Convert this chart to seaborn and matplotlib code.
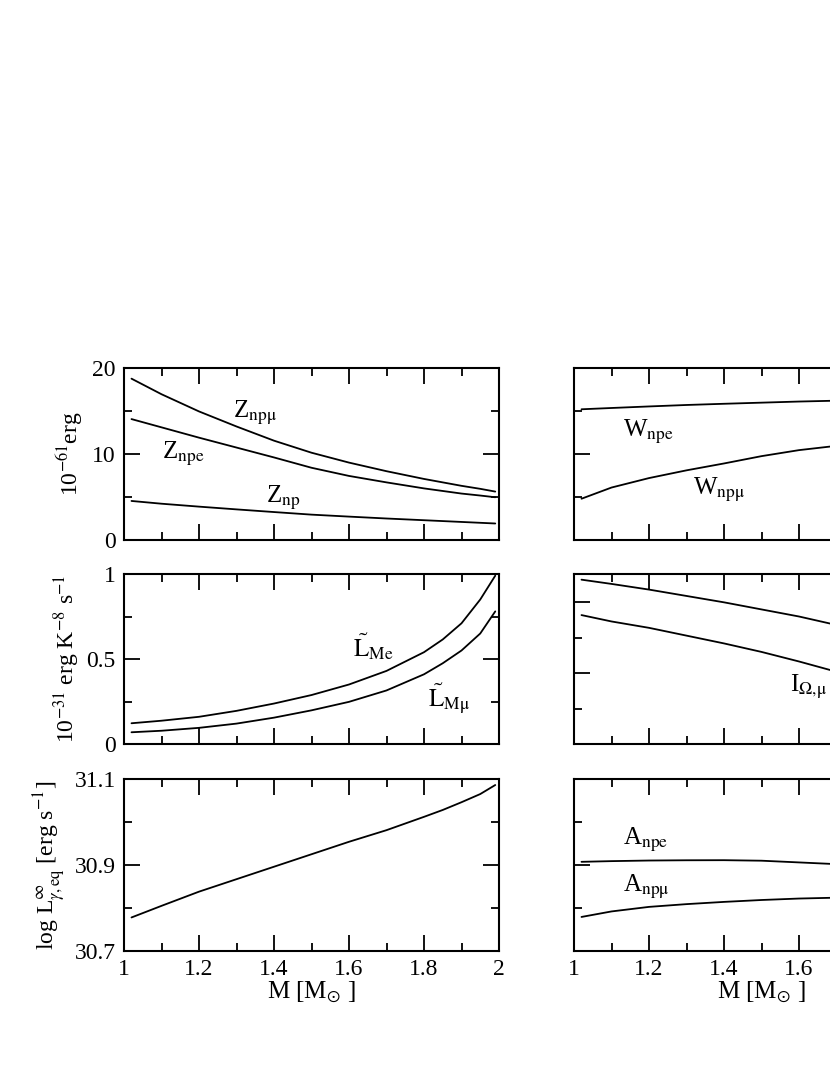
import matplotlib
matplotlib.use("Agg")
import matplotlib.pyplot as plt
import seaborn as sns
from matplotlib.ticker import MultipleLocator, FixedLocator, FormatStrFormatter, FuncFormatter

# ---------------- data ----------------
mass = [1.02, 1.1, 1.2, 1.3, 1.4, 1.5, 1.6, 1.7, 1.8, 1.85, 1.9, 1.95, 1.99]

Z_npmu = [18.76, 16.95, 14.95, 13.2, 11.55, 10.15, 9.0, 8.0, 7.1, 6.7, 6.3, 5.95, 5.63]
Z_npe = [14.06, 13.1, 11.9, 10.75, 9.6, 8.4, 7.45, 6.7, 6.0, 5.7, 5.4, 5.17, 4.97]
Z_np = [4.54, 4.22, 3.88, 3.56, 3.25, 2.95, 2.72, 2.5, 2.3, 2.2, 2.1, 2.0, 1.92]

L_Me = [0.122, 0.137, 0.160, 0.195, 0.238, 0.288, 0.35, 0.43, 0.54, 0.615, 0.71, 0.85, 0.99]
L_Mmu = [0.069, 0.078, 0.095, 0.12, 0.155, 0.198, 0.248, 0.315, 0.41, 0.475, 0.55, 0.65, 0.78]

logL_eq = [30.778, 30.805, 30.838, 30.867, 30.896, 30.925, 30.954, 30.981,
           31.012, 31.028, 31.046, 31.065, 31.086]

W_npe = [15.2, 15.35, 15.53, 15.7, 15.84, 15.97, 16.1, 16.2, 16.28, 16.31, 16.34, 16.37, 16.4]
W_npmu = [4.8, 6.1, 7.2, 8.1, 8.9, 9.75, 10.45, 10.95, 11.4, 11.6, 11.8, 11.95, 12.1]

I_e = [2.32, 2.26, 2.18, 2.09, 2.0, 1.9, 1.8, 1.68, 1.55, 1.48, 1.4, 1.32, 1.25]
I_mu = [1.82, 1.73, 1.64, 1.53, 1.42, 1.3, 1.165, 1.02, 0.86, 0.77, 0.68, 0.59, 0.5]

A_npe = [1.037, 1.045, 1.052, 1.055, 1.056, 1.05, 1.03, 1.01, 0.99, 0.975, 0.96, 0.945, 0.93]
A_npmu = [0.396, 0.46, 0.513, 0.545, 0.571, 0.593, 0.61, 0.62, 0.625, 0.625, 0.625, 0.623, 0.62]

logL_major = [30.7, 30.9, 31.1]
logL_minor = [30.8, 31.0]

x_label = r"M [M$_{\odot}$ ]"
ylabels = [r"10$^{-61}$erg",
           r"10$^{-31}$ erg K$^{-8}$ s$^{-1}$",
           r"log L$_{\gamma,\mathrm{eq}}^{\infty}$ [erg s$^{-1}$]"]

# ---------------- style ----------------
sns.set_theme(style="ticks")
plt.rcParams.update({
    "font.family": ["Liberation Serif", "DejaVu Serif"],
    "mathtext.fontset": "stix",
    "axes.linewidth": 1.5,
    "axes.edgecolor": "black",
    "text.color": "black",
    "axes.labelcolor": "black",
    "xtick.color": "black",
    "ytick.color": "black",
})

W, H = 830, 1075
fig = plt.figure(figsize=(8.3, 10.75), dpi=100)


def add(x0, y0, x1, y1):
    return fig.add_axes([x0 / W, 1 - y1 / H, (x1 - x0) / W, (y1 - y0) / H])


def style(ax, ylim, ymaj, ymin, xlabels, ylabels_on, yfmt="%g", xmax_label=2.0):
    ax.set_xlim(1, 2)
    ax.set_ylim(*ylim)
    ax.xaxis.set_major_locator(MultipleLocator(0.2))
    ax.xaxis.set_minor_locator(MultipleLocator(0.1))
    if isinstance(ymaj, list):
        ax.yaxis.set_major_locator(FixedLocator(ymaj))
        ax.yaxis.set_minor_locator(FixedLocator(ymin))
    else:
        ax.yaxis.set_major_locator(MultipleLocator(ymaj))
        ax.yaxis.set_minor_locator(MultipleLocator(ymin))
    ax.xaxis.set_major_formatter(
        FuncFormatter(lambda v, p: ("%g" % round(v, 2)) if v <= xmax_label + 1e-9 else ""))
    ax.yaxis.set_major_formatter(FormatStrFormatter(yfmt))
    ax.tick_params(which="both", direction="in", top=True, right=True,
                   labelsize=17, pad=6, width=1.3)
    ax.tick_params(which="major", length=11.5)
    ax.tick_params(which="minor", length=5.8)
    ax.tick_params(labelbottom=xlabels, labelleft=ylabels_on)
    ax.set_xlabel("")
    ax.set_ylabel("")


def line(ax, y):
    sns.lineplot(x=mass, y=y, ax=ax, color="black", linewidth=1.3,
                 legend=False, sort=False, estimator=None)


# left column
ax1 = add(124, 368, 499, 540)
ax2 = add(124, 574, 499, 744)
ax3 = add(124, 779, 499, 951)
# right column (cut by the figure edge)
ax4 = add(574, 368, 949, 540)
ax5 = add(574, 574, 949, 744)
ax6 = add(574, 779, 949, 951)

for y in (Z_npmu, Z_npe, Z_np):
    line(ax1, y)
for y in (L_Me, L_Mmu):
    line(ax2, y)
line(ax3, logL_eq)
for y in (W_npe, W_npmu):
    line(ax4, y)
for y in (I_e, I_mu):
    line(ax5, y)
for y in (A_npe, A_npmu):
    line(ax6, y)

style(ax1, (0, 20), 10, 5, False, True)
style(ax2, (0, 1), 0.5, 0.25, False, True)
style(ax3, (30.7, 31.1), logL_major, logL_minor, True, True, "%.1f")
style(ax4, (0, 20), 10, 5, False, False)
style(ax5, (0, 2.4), 1, 0.5, False, False)
style(ax6, (0, 2), 1, 0.5, True, False, xmax_label=1.7)

for ax, lab, xc in zip((ax1, ax2, ax3), ylabels, (-0.104, -0.112, -0.150)):
    ax.set_ylabel(lab, fontsize=17)
    ax.yaxis.set_label_coords(xc, 0.5)

for ax in (ax3, ax6):
    ax.set_xlabel(x_label, fontsize=18, labelpad=0)

kw = dict(fontsize=18, ha="left", va="baseline")
ax1.text(1.29, 14.2, r"Z$_{\mathrm{np\mu}}$", **kw)
ax1.text(1.101, 9.5, r"Z$_{\mathrm{npe}}$", **kw)
ax1.text(1.38, 4.3, r"Z$_{\mathrm{np}}$", **kw)
ax2.text(1.611, 0.514, r"$\tilde{\mathrm{L}}_{\mathrm{Me}}$", **kw)
ax2.text(1.81, 0.22, r"$\tilde{\mathrm{L}}_{\mathrm{M\mu}}$", **kw)
ax4.text(1.131, 12.0, r"W$_{\mathrm{npe}}$", **kw)
ax4.text(1.318, 5.23, r"W$_{\mathrm{np\mu}}$", **kw)
ax5.text(1.576, 0.74, r"I$_{\mathrm{\Omega{,}\mu}}$", **kw)
ax6.text(1.131, 1.233, r"A$_{\mathrm{npe}}$", **kw)
ax6.text(1.131, 0.69, r"A$_{\mathrm{np\mu}}$", **kw)

fig.savefig("out.png", dpi=100)
